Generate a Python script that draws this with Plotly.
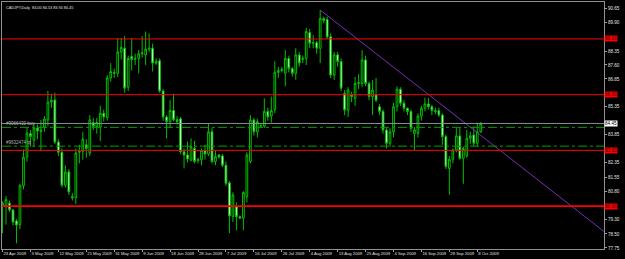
import plotly.graph_objects as go

# ---------------- data ----------------
title_text = "CADJPY,Daily  84.00 84.53 83.94 84.45"

opens = [80.05, 80.00, 80.16, 79.79, 79.20, 79.00, 81.10, 82.64, 83.90, 83.55,
         84.20, 84.00, 84.26, 84.64, 85.60, 85.71, 83.45, 82.90, 81.13, 81.84,
         80.50, 80.45, 82.90, 82.95, 83.30, 82.86, 84.50, 84.30, 84.26, 85.00,
         84.76, 86.90, 87.20, 87.15, 88.30, 88.50, 86.40, 88.05, 87.90, 87.95,
         88.20, 88.14, 88.45, 88.50, 87.70, 87.83, 86.20, 84.80, 84.55, 85.15,
         84.65, 84.70, 82.93, 82.75, 82.48, 83.10, 82.45, 82.50, 83.00, 82.80,
         84.00, 82.40, 82.75, 82.70, 82.20, 81.25, 79.45, 79.97, 79.43, 79.35,
         80.50, 82.40, 84.64, 84.00, 84.30, 84.30, 85.10, 84.85, 85.20, 87.20,
         87.30, 87.15, 87.95, 87.40, 87.15, 88.14, 87.90, 87.95, 89.35, 88.77,
         88.80, 88.50, 90.10, 90.05, 89.12, 87.06, 88.14, 87.78, 86.07, 85.17,
         86.00, 85.80, 86.60, 86.60, 87.87, 86.60, 85.90, 86.00, 85.35, 85.10,
         84.10, 83.38, 84.00, 85.35, 86.29, 85.54, 85.27, 85.09, 83.90, 83.92,
         84.85, 85.27, 85.50, 85.35, 85.14, 85.14, 84.90, 83.74, 82.03, 82.52,
         83.02, 83.78, 82.57, 82.70, 83.65, 83.83, 83.38, 84.00]
highs = [80.25, 80.55, 80.30, 79.85, 79.30, 81.20, 83.05, 84.20, 84.10, 84.45,
         84.40, 84.64, 84.85, 86.20, 86.05, 86.10, 83.60, 83.10, 82.20, 82.00,
         80.70, 83.10, 83.30, 84.00, 83.60, 84.90, 84.75, 84.75, 85.40, 85.20,
         87.05, 87.70, 87.40, 89.05, 89.05, 89.15, 88.10, 89.05, 88.20, 88.40,
         89.15, 89.40, 89.30, 88.75, 87.95, 87.95, 86.30, 84.90, 85.70, 86.05,
         84.85, 84.80, 83.10, 83.47, 83.65, 83.52, 82.60, 83.10, 83.30, 84.45,
         84.20, 83.00, 82.80, 82.80, 82.40, 81.35, 80.75, 80.20, 79.50, 80.80,
         82.90, 84.90, 84.75, 84.70, 84.45, 85.80, 85.30, 85.90, 87.80, 87.50,
         87.50, 88.40, 88.10, 87.50, 88.50, 88.30, 88.10, 89.60, 89.55, 89.20,
         88.90, 90.56, 90.20, 90.20, 89.30, 88.30, 88.30, 87.95, 86.25, 86.40,
         86.15, 86.95, 87.10, 88.40, 88.10, 86.70, 86.79, 86.90, 85.50, 85.20,
         84.20, 84.20, 85.55, 86.45, 86.40, 85.70, 85.30, 85.20, 84.25, 85.00,
         85.40, 85.83, 85.83, 85.45, 85.30, 85.30, 85.00, 83.85, 82.70, 83.10,
         84.20, 84.20, 83.20, 84.10, 84.00, 84.30, 84.50, 84.53]
lows = [78.55, 79.00, 79.70, 78.95, 78.00, 78.75, 80.90, 82.40, 83.20, 83.20,
        83.60, 82.95, 84.00, 84.30, 85.30, 83.35, 82.70, 81.00, 81.00, 80.60,
        80.30, 80.10, 82.30, 82.50, 82.60, 82.70, 84.10, 83.90, 83.50, 84.55,
        84.60, 86.70, 86.90, 86.95, 87.90, 86.10, 86.20, 87.30, 87.60, 87.15,
        88.00, 87.60, 88.30, 87.25, 87.60, 86.10, 84.60, 83.65, 84.20, 84.55,
        84.40, 82.80, 82.03, 82.35, 82.40, 82.30, 82.30, 82.20, 82.50, 82.70,
        82.30, 82.20, 82.55, 82.10, 81.10, 78.55, 79.15, 78.70, 79.30, 78.70,
        80.20, 82.30, 83.80, 83.70, 84.20, 84.20, 84.60, 84.50, 85.00, 86.90,
        87.20, 86.45, 87.20, 86.97, 86.80, 87.50, 87.70, 87.60, 88.50, 88.50,
        88.20, 87.70, 89.85, 89.00, 86.90, 86.80, 87.50, 86.20, 84.90, 84.80,
        85.60, 85.40, 86.30, 86.40, 86.45, 85.70, 84.90, 85.60, 84.90, 83.90,
        83.10, 83.20, 83.70, 85.10, 85.40, 85.10, 84.90, 84.00, 83.00, 83.70,
        84.60, 85.10, 85.20, 84.90, 84.95, 84.80, 83.30, 82.00, 80.60, 82.30,
        82.90, 82.50, 81.20, 82.60, 83.35, 83.20, 83.20, 83.94]
closes = [80.15, 80.35, 79.79, 79.14, 78.98, 81.10, 82.64, 83.93, 83.75, 84.20,
          84.05, 84.10, 84.69, 85.60, 85.70, 83.45, 82.90, 81.13, 81.84, 80.76,
          80.45, 82.86, 82.95, 83.60, 83.10, 84.64, 84.30, 84.50, 85.00, 84.80,
          86.90, 87.24, 87.15, 88.30, 88.55, 86.35, 87.95, 87.90, 87.95, 88.20,
          88.25, 88.45, 88.50, 87.70, 87.80, 86.20, 84.80, 84.55, 85.15, 84.65,
          84.55, 82.93, 82.75, 82.54, 83.20, 82.40, 82.50, 83.00, 82.80, 84.00,
          82.40, 82.66, 82.65, 82.20, 81.23, 79.47, 80.60, 79.43, 79.35, 80.73,
          82.75, 84.64, 84.00, 84.55, 84.32, 85.10, 84.80, 85.15, 87.20, 87.30,
          87.35, 87.95, 87.40, 87.15, 88.14, 87.70, 87.95, 89.40, 88.77, 88.80,
          88.50, 90.10, 90.00, 89.10, 87.06, 88.14, 87.78, 86.35, 85.17, 86.25,
          85.90, 86.60, 86.65, 87.87, 86.60, 85.90, 86.25, 85.70, 85.10, 84.10,
          83.38, 84.00, 85.35, 86.29, 85.54, 85.27, 85.09, 84.19, 84.10, 84.85,
          85.27, 85.50, 85.35, 85.14, 85.10, 84.90, 83.74, 82.12, 82.52, 83.02,
          83.78, 82.57, 83.10, 83.65, 83.78, 83.38, 84.00, 84.45]

bars = list(range(len(closes)))

date_tick_bars = [0, 8, 16, 24, 32, 40, 48, 56, 64, 72, 80, 88, 96, 104, 112, 120, 128, 136]
date_tick_text = ["23 Apr 2009", "3 May 2009", "12 May 2009", "21 May 2009", "31 May 2009",
                  "9 Jun 2009", "18 Jun 2009", "28 Jun 2009", "7 Jul 2009", "16 Jul 2009",
                  "26 Jul 2009", "4 Aug 2009", "13 Aug 2009", "25 Aug 2009", "4 Sep 2009",
                  "16 Sep 2009", "28 Sep 2009", "8 Oct 2009"]

price_ticks = [90.65, 89.90, 88.35, 87.60, 86.85, 85.35, 83.85, 82.35, 81.55, 80.80,
               79.30, 78.50, 77.75]

hlines = [89.00, 86.00, 83.00, 80.00]
hline_widths = [1, 1, 1, 1.6]

bid_price = 84.45
order_prices = [84.24, 83.23]
order_labels = ["#9966430 buy", "#9632474 tp"]

trend_bars = [91, 172.3]
trend_prices = [90.56, 78.63]

x_range = [-0.15, 172.3]
y_range = [77.69, 90.99]

# ---------------- figure ----------------
GREEN = "#00c000"
FONT = "Liberation Sans"

fig = go.Figure()

fig.add_trace(go.Candlestick(
    x=bars, open=opens, high=highs, low=lows, close=closes,
    increasing=dict(line=dict(color=GREEN, width=1), fillcolor="black"),
    decreasing=dict(line=dict(color=GREEN, width=1), fillcolor="white"),
    whiskerwidth=0, showlegend=False, hoverinfo="skip"))

fig.add_trace(go.Scatter(x=trend_bars, y=trend_prices, mode="lines",
                         line=dict(color="#7a2fb8", width=1), showlegend=False,
                         hoverinfo="skip"))

shapes = []
for p, w in zip(hlines, hline_widths):
    shapes.append(dict(type="line", xref="paper", x0=0, x1=1, yref="y", y0=p, y1=p,
                       line=dict(color="#ff0000", width=w), layer="above"))
shapes.append(dict(type="line", xref="paper", x0=0, x1=1, yref="y", y0=bid_price, y1=bid_price,
                   line=dict(color="#8a90a0", width=1), layer="above"))
for p in order_prices:
    shapes.append(dict(type="line", xref="paper", x0=0, x1=1, yref="y", y0=p, y1=p,
                       line=dict(color="#00a000", width=1, dash="dashdot"), layer="above"))

annotations = []
annotations.append(dict(xref="paper", yref="paper", x=0.003, y=0.99, xanchor="left",
                        yanchor="top", text=title_text, showarrow=False,
                        font=dict(family=FONT, size=3.8, color="#e0e0e0")))
for p, t in zip(order_prices, order_labels):
    annotations.append(dict(xref="paper", yref="y", x=0.004, y=p, xanchor="left",
                            yanchor="bottom", text=t, showarrow=False, yshift=-1,
                            font=dict(family=FONT, size=4.5, color="#b0b0b0")))
for p in hlines:
    annotations.append(dict(xref="paper", yref="y", x=1.0, y=p, xanchor="left",
                            yanchor="middle", text="%.2f" % p, showarrow=False,
                            bgcolor="#ff0000", borderpad=0,
                            font=dict(family=FONT, size=4.6, color="#400000")))
annotations.append(dict(xref="paper", yref="y", x=1.0, y=bid_price, xanchor="left",
                        yanchor="middle", text="%.2f" % bid_price, showarrow=False,
                        bgcolor="#ffffff", borderpad=0,
                        font=dict(family=FONT, size=4.6, color="#000000")))

fig.update_layout(
    width=625, height=259,
    margin=dict(l=2, r=21, t=2, b=10),
    paper_bgcolor="black", plot_bgcolor="black",
    shapes=shapes, annotations=annotations,
    xaxis=dict(range=x_range, rangeslider=dict(visible=False), showgrid=False,
               zeroline=False, tickmode="array", tickvals=date_tick_bars,
               ticktext=date_tick_text, ticklabelposition="outside right",
               tickangle=0,
               ticks="outside", ticklen=2, tickcolor="#a0a0a0",
               tickfont=dict(family=FONT, size=4.2, color="#e0e0e0"),
               showline=True, linecolor="#909090", linewidth=1, mirror=True),
    yaxis=dict(range=y_range, side="right", showgrid=False, zeroline=False,
               tickmode="array", tickvals=price_ticks,
               ticktext=["%.2f" % v for v in price_ticks],
               ticks="outside", ticklen=2, tickcolor="#a0a0a0",
               tickfont=dict(family=FONT, size=4.6, color="#e0e0e0"),
               showline=True, linecolor="#909090", linewidth=1, mirror=True),
)

fig.write_html("out.html")
